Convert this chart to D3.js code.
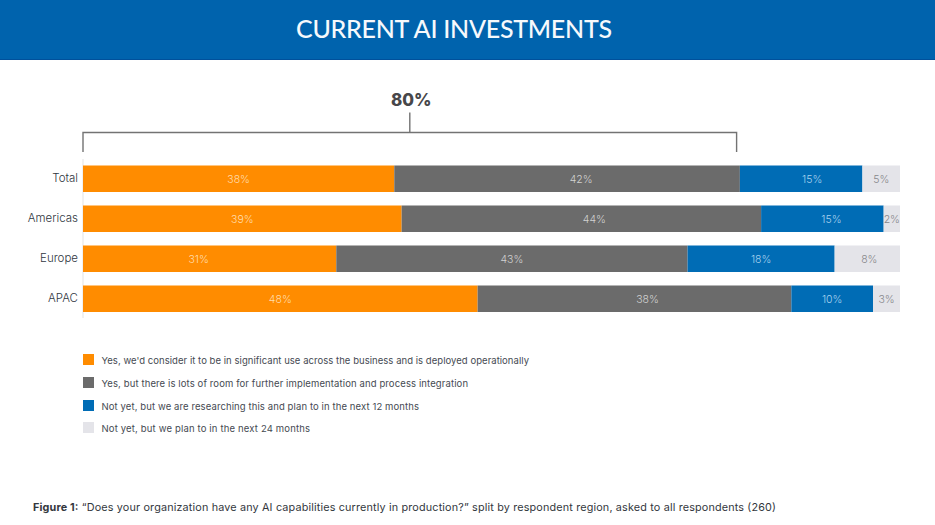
<!DOCTYPE html>
<html>
<head>
  <meta charset="utf-8">
  <style>
    html, body { margin: 0; padding: 0; background: #fff; }
    svg { display: block; }
    svg text { font-family: Inter, "Open Sans", sans-serif; }
    .domain { stroke: #ececec; stroke-width: 1.5px; }
    .tick line { display: none; }
    .tick text { font-size: 11.5px; font-weight: 300; fill: #2f3640; font-family: Inter, sans-serif; }
  </style>
</head>
<body>
<script src="https://d3js.org/d3.v7.min.js"></script>
<script>
  // values
  var categories = ["Total", "Americas", "Europe", "APAC"];
  var seriesNames = [
    "Yes, we'd consider it to be in significant use across the business and is deployed operationally",
    "Yes, but there is lots of room for further implementation and process integration",
    "Not yet, but we are researching this and plan to in the next 12 months",
    "Not yet, but we plan to in the next 24 months"
  ];
  var significantUse = [38.1, 39, 31, 48.3];
  var roomToGrow = [42.3, 44, 43, 38.4];
  var researching = [15, 15, 18, 10];
  var planning = [4.6, 2, 8, 3.3];
  var bracketValue = 80;

  var titleText = "CURRENT AI INVESTMENTS";
  var captionBold = "Figure 1:";
  var captionText = "\u201CDoes your organization have any AI capabilities currently in production?\u201D split by respondent region, asked to all respondents (260)";

  // the labels in the original are not all centred in their segment
  var labelNudge = [
    [0, 14, 11, 0],
    [0, 13, 9, 0],
    [-11, 0, 0, 2],
    [0, 13, 0, 0]
  ];

  var colors = ["#ff8c00", "#6b6b6b", "#006cb5", "#e4e4e9"];
  var labelColors = ["#ffdcae", "#d2d2d2", "#a8d2ee", "#86868a"];

  var width = 935, height = 525;
  var legendTextLengths = [427.5, 366.5, 317.5, 208.5];

  var svg = d3.select("body").append("svg")
      .attr("width", width)
      .attr("height", height);

  // header band
  svg.append("rect")
      .attr("width", width)
      .attr("height", 60)
      .style("fill", "#0063ad");
  svg.append("rect")
      .attr("y", 59)
      .attr("width", width)
      .attr("height", 1)
      .style("fill", "#00509b");
  svg.append("text")
      .attr("x", 454)
      .attr("y", 37.5)
      .attr("text-anchor", "middle")
      .attr("textLength", 316)
      .style("font-family", "Lato, sans-serif")
      .style("font-weight", 500)
      .style("font-size", "25px")
      .style("fill", "#f6f9fc")
      .text(titleText);

  // scales
  var x = d3.scaleLinear().domain([0, 100]).range([83, 900]);
  var y = d3.scaleBand().domain(categories).range([165.5, 312]).paddingInner(0.3375);

  var rows = categories.map(function (c, i) {
    return { category: c, a: significantUse[i], b: roomToGrow[i], c: researching[i], d: planning[i] };
  });
  var keys = ["a", "b", "c", "d"];
  var stacked = d3.stack().keys(keys)(rows);

  // category axis
  svg.append("g")
      .attr("transform", "translate(" + x(0) + ",0)")
      .call(d3.axisLeft(y).tickSize(0).tickPadding(5))
      .call(function (g) {
        g.select(".domain").attr("d", "M0,159V318").style("fill", "none");
      });

  // bars
  var layers = svg.selectAll("g.layer")
      .data(stacked)
    .enter().append("g")
      .attr("class", "layer");

  layers.selectAll("rect")
      .data(function (d) { return d; })
    .enter().append("rect")
      .attr("x", function (d) { return x(d[0]); })
      .attr("y", function (d) { return y(d.data.category); })
      .attr("width", function (d) { return x(d[1]) - x(d[0]); })
      .attr("height", y.bandwidth())
      .style("fill", function (d, i, nodes) { return colors[keys.indexOf(d3.select(nodes[i].parentNode).datum().key)]; });

  layers.each(function (layer, s) {
    d3.select(this).selectAll("text")
        .data(layer)
      .enter().append("text")
        .attr("x", function (d, i) { return (x(d[0]) + x(d[1])) / 2 + labelNudge[i][s]; })
        .attr("y", function (d) { return y(d.data.category) + y.bandwidth() / 2 + 4; })
        .attr("text-anchor", "middle")
        .style("font-size", "10.5px")
        .style("font-weight", 300)
        .style("fill", labelColors[s])
        .text(function (d) { return d3.format(".0f")(d[1] - d[0]) + "%"; });
  });

  // 80% bracket
  var bracketY = 132.5;
  svg.append("path")
      .attr("d", "M" + x(0) + ",152V" + bracketY + "H" + x(bracketValue) + "V152" +
                 "M" + x(bracketValue / 2) + "," + bracketY + "V112.5")
      .style("fill", "none")
      .style("stroke", "#737373")
      .style("stroke-width", "1.4px");
  svg.append("text")
      .attr("x", x(bracketValue / 2) + 1.5)
      .attr("y", 106)
      .attr("text-anchor", "middle")
      .style("font-weight", 800)
      .style("font-size", "17px")
      .style("fill", "#47474a")
      .text(bracketValue + "%");

  // legend
  var legendY = d3.scaleOrdinal().domain(seriesNames).range([354, 377, 400, 422]);
  var legend = svg.selectAll("g.legend")
      .data(seriesNames)
    .enter().append("g")
      .attr("class", "legend")
      .attr("transform", function (d) { return "translate(83," + legendY(d) + ")"; });
  legend.append("rect")
      .attr("width", 11)
      .attr("height", 11)
      .style("fill", function (d, i) { return colors[i]; });
  legend.append("text")
      .attr("x", 18.5)
      .attr("y", 9.7)
      .attr("textLength", function (d, i) { return legendTextLengths[i]; })
      .style("font-size", "9.5px")
      .style("fill", "#454a52")
      .text(function (d) { return d; });

  // caption
  var caption = svg.append("text")
      .attr("x", 33)
      .attr("y", 511)
      .attr("textLength", 743)
      .style("font-size", "10.8px")
      .style("fill", "#33373d");
  caption.append("tspan").style("font-weight", 700).text(captionBold);
  caption.append("tspan").text(" " + captionText);
</script>
</body>
</html>
